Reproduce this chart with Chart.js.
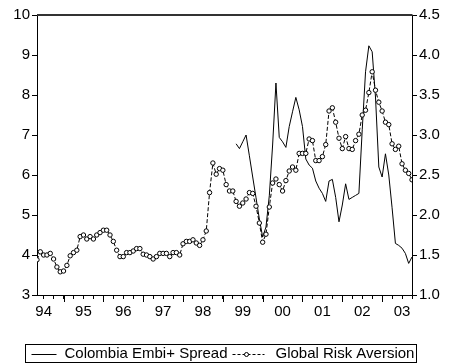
<!DOCTYPE html>
<html><head><meta charset="utf-8">
<script src="https://cdn.jsdelivr.net/npm/chart.js@4.4.1/dist/chart.umd.min.js"></script>
<style>html,body{margin:0;padding:0;background:#fff;}#wrap{width:449px;height:364px;}</style>
</head><body><div id="wrap"><canvas id="c" width="449" height="364"></canvas></div>
<script>
// first observation: 1994M05 (monthly data)
const startYear = 1994;
const startMonth = 5;
const yearLabels = ['94','95','96','97','98','99','00','01','02','03'];
const leftTicks = [3,4,5,6,7,8,9,10];
const rightTicks = [1.0,1.5,2.0,2.5,3.0,3.5,4.0,4.5];
const seriesNames = ['Colombia Embi+ Spread','Global Risk Aversion'];

// Global Risk Aversion, 1994M05 .. 2003M10 (right axis)
const globalRiskAversion = [
 1.44,1.54,1.50,1.50,1.52,1.45,1.35,1.29,1.30,1.37,1.49,1.53,1.56,1.73,1.75,1.70,
 1.73,1.70,1.75,1.78,1.81,1.81,1.75,1.67,1.56,1.48,1.48,1.53,1.53,1.55,1.58,1.58,
 1.51,1.50,1.48,1.45,1.48,1.52,1.52,1.52,1.48,1.53,1.53,1.50,1.64,1.67,1.67,1.69,
 1.65,1.62,1.69,1.80,2.28,2.65,2.51,2.58,2.56,2.38,2.30,2.30,2.17,2.11,2.15,2.20,
 2.28,2.27,2.11,1.90,1.66,1.76,2.10,2.40,2.45,2.38,2.30,2.43,2.55,2.60,2.56,2.77,
 2.77,2.77,2.95,2.93,2.68,2.68,2.73,2.88,3.30,3.34,3.16,2.96,2.83,2.98,2.83,2.82,
 2.93,3.01,3.25,3.31,3.53,3.79,3.56,3.41,3.30,3.16,3.13,2.89,2.82,2.86,2.64,2.56,
 2.52,2.44
];

// Colombia EMBI+ spread, 1999M05 .. 2003M10 (left axis)
const embiStart = { year: 1999, month: 5 };
const colombiaEmbi = [
 6.78,6.66,6.83,7.00,6.48,5.95,5.43,4.90,4.45,4.70,
 5.48,6.75,8.30,6.94,6.83,6.69,7.21,7.58,7.94,7.63,
 7.21,6.40,6.25,6.17,5.85,5.67,5.54,5.34,5.85,5.89,
 5.44,4.83,5.25,5.78,5.39,5.44,5.49,5.54,7.13,8.58,
 9.23,9.08,7.95,6.20,5.95,6.53,6.00,5.18,4.29,4.24,
 4.17,4.04,3.79,3.95
];

const FONT = '"Liberation Sans", Arial, Helvetica, sans-serif';
const monthIndex = (y, m) => (y - startYear) * 12 + (m - startMonth);
const lastIndex = globalRiskAversion.length - 1;
const embiOffset = monthIndex(embiStart.year, embiStart.month);

const graData = globalRiskAversion.map((v, i) => ({ x: i, y: v }));
const embiData = colombiaEmbi.map((v, i) => ({ x: embiOffset + i, y: v }));

// quarter ticks (Jan, Apr, Jul, Oct)
const quarterTicks = [];
for (let i = 0; i <= lastIndex; i++) {
  const abs = startMonth - 1 + i;
  if (abs % 3 === 0) quarterTicks.push(i);
}
const absMonth = v => startMonth - 1 + v;

const axisFont = { family: FONT, size: 15 };

const frameAndTicks = {
  id: 'frameAndTicks',
  afterDraw(chart) {
    const ctx = chart.ctx, a = chart.chartArea, xs = chart.scales.x;
    ctx.save();
    ctx.strokeStyle = '#333';
    ctx.lineWidth = 2;
    ctx.beginPath(); ctx.moveTo(a.left, a.top); ctx.lineTo(a.right + 0.5, a.top); ctx.stroke();
    ctx.strokeStyle = '#000'; ctx.lineWidth = 1;
    xs.ticks.forEach(t => {
      if (absMonth(t.value) % 12 === 0) {
        const px = Math.round(xs.getPixelForValue(t.value)) + 0.5;
        ctx.beginPath(); ctx.moveTo(px, a.bottom); ctx.lineTo(px, a.bottom + 7); ctx.stroke();
      }
    });
    ctx.restore();
  }
};

const boxLegend = {
  id: 'boxLegend',
  afterDraw(chart) {
    const ctx = chart.ctx;
    ctx.save();
    ctx.font = '15px ' + FONT;
    ctx.fillStyle = '#000';
    ctx.strokeStyle = '#000';
    ctx.textBaseline = 'middle';
    const top = 344.5, h = 18, cy = top + h / 2 + 0.5;
    const left = 25.5;
    let x = left + 6;
    ctx.lineWidth = 1;
    ctx.beginPath(); ctx.moveTo(x, Math.round(cy) + 0.5); ctx.lineTo(x + 25, Math.round(cy) + 0.5); ctx.stroke();
    x += 33;
    ctx.fillText(seriesNames[0], x, cy);
    x += ctx.measureText(seriesNames[0]).width + 5;
    ctx.setLineDash([3, 2]);
    ctx.beginPath(); ctx.moveTo(x, Math.round(cy) + 0.5); ctx.lineTo(x + 32, Math.round(cy) + 0.5); ctx.stroke();
    ctx.setLineDash([]);
    ctx.beginPath(); ctx.arc(x + 14, Math.round(cy) + 0.5, 2, 0, Math.PI * 2);
    ctx.fillStyle = '#fff'; ctx.fill(); ctx.stroke();
    ctx.fillStyle = '#000';
    x += 43;
    ctx.fillText(seriesNames[1], x, cy);
    x += ctx.measureText(seriesNames[1]).width + 2;
    ctx.strokeRect(left, top, Math.round(x - left), h);
    ctx.restore();
  }
};

new Chart(document.getElementById('c'), {
  type: 'line',
  data: {
    datasets: [
      {
        label: seriesNames[0], data: embiData, yAxisID: 'y',
        borderColor: '#000', borderWidth: 1, pointRadius: 0, tension: 0, fill: false, order: 1
      },
      {
        label: seriesNames[1], data: graData, yAxisID: 'y1',
        borderColor: '#000', borderWidth: 1, borderDash: [4, 2], tension: 0, fill: false,
        pointRadius: 2.2, pointBackgroundColor: '#fff', pointBorderColor: '#000', pointBorderWidth: 1,
        pointStyle: 'circle', order: 0
      }
    ]
  },
  options: {
    responsive: false, animation: false, devicePixelRatio: 1,
    layout: { padding: { top: 15, left: 0, right: 0, bottom: 0 } },
    plugins: { legend: { display: false }, tooltip: { enabled: false } },
    scales: {
      x: {
        type: 'linear', position: 'bottom', min: 0, max: lastIndex,
        afterBuildTicks: s => { s.ticks = quarterTicks.map(v => ({ value: v })); },
        afterFit: s => { s.height = 69; },
        ticks: {
          autoSkip: false, maxRotation: 0, minRotation: 0, padding: 4, color: '#000', font: axisFont,
          callback: v => {
            const m = absMonth(v);
            return (m % 12 === 6) ? yearLabels[Math.floor(m / 12)] : '';
          }
        },
        grid: { drawOnChartArea: false, drawTicks: true, tickLength: 4, tickColor: '#000', tickWidth: 1 },
        border: { display: true, color: '#000', width: 1 }
      },
      y: {
        position: 'left', min: 3, max: 10,
        afterBuildTicks: s => { s.ticks = leftTicks.map(v => ({ value: v })); },
        afterFit: s => { s.width = 37; },
        ticks: { color: '#000', font: axisFont, padding: 2, callback: v => String(v) },
        grid: { drawOnChartArea: false, drawTicks: true, tickLength: 5, tickColor: '#000', tickWidth: 1 },
        border: { display: true, color: '#000', width: 1 }
      },
      y1: {
        position: 'right', min: 1, max: 4.5,
        afterBuildTicks: s => { s.ticks = rightTicks.map(v => ({ value: v })); },
        afterFit: s => { s.width = 37; },
        ticks: { color: '#000', font: axisFont, padding: 2, callback: v => Number(v).toFixed(1) },
        grid: { drawOnChartArea: false, drawTicks: true, tickLength: 5, tickColor: '#000', tickWidth: 1 },
        border: { display: true, color: '#000', width: 1 }
      }
    }
  },
  plugins: [frameAndTicks, boxLegend]
});
</script>
</body></html>
